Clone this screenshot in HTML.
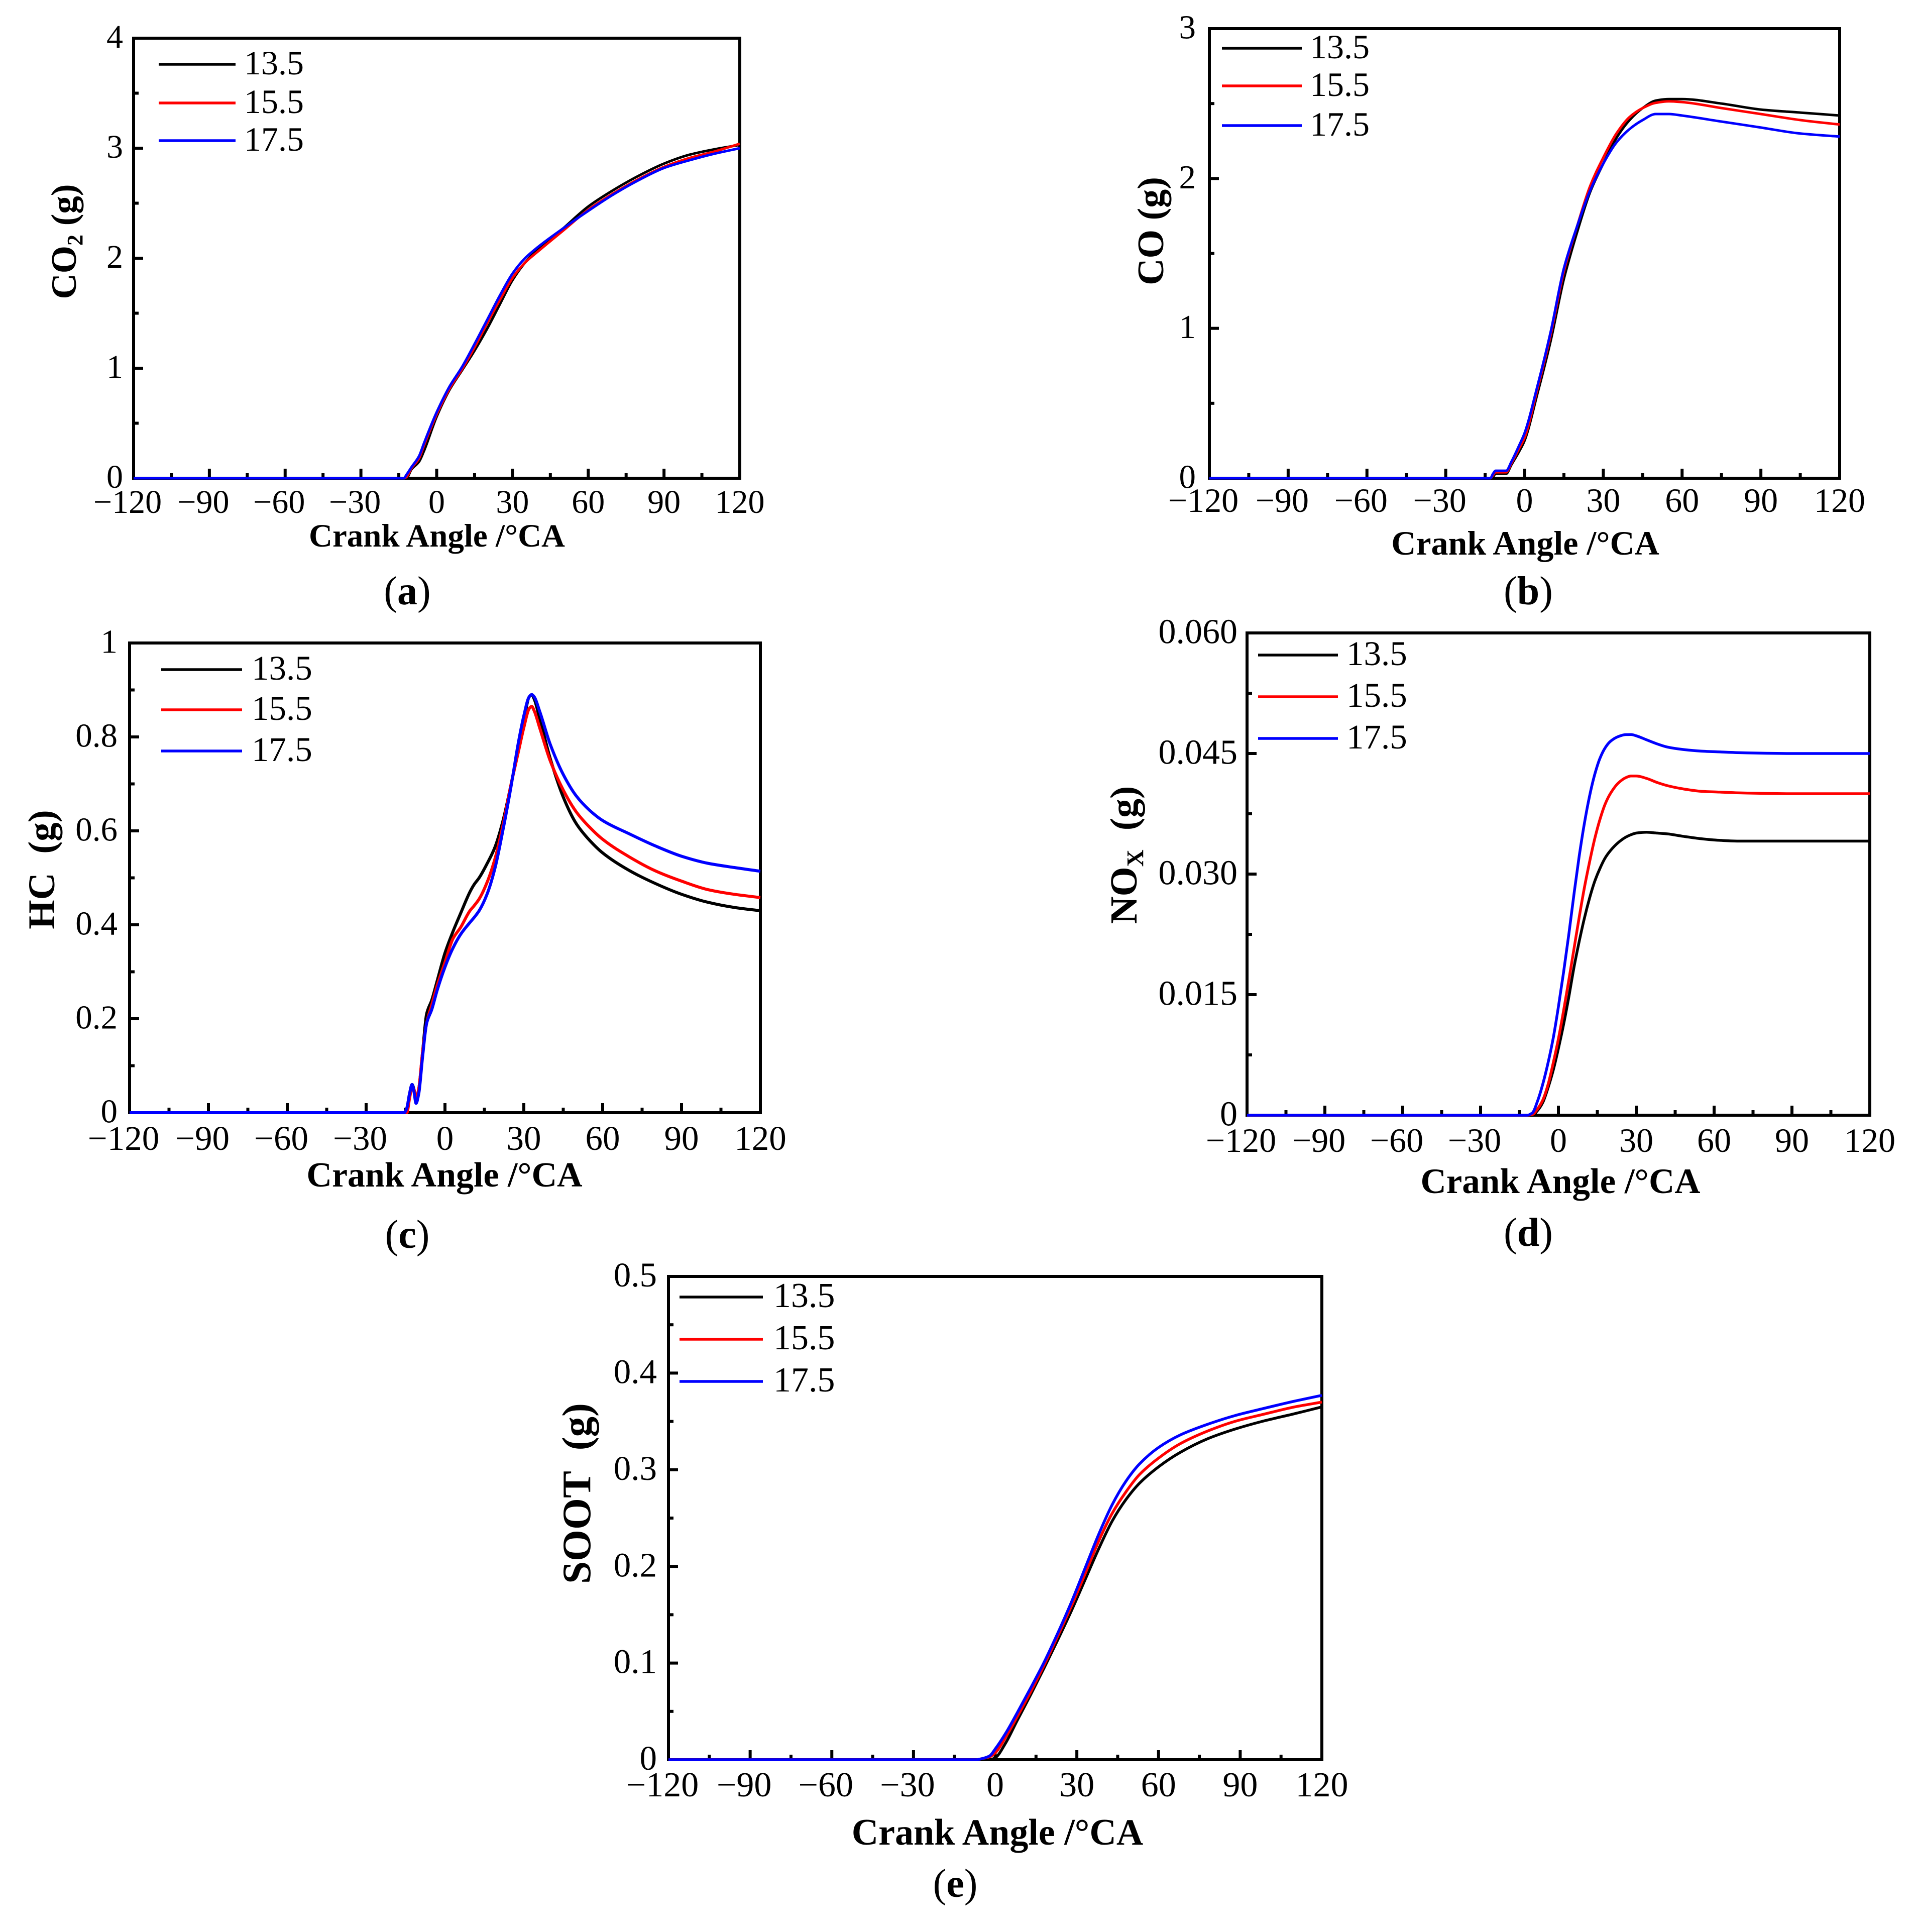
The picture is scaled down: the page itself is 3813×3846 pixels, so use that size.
<!DOCTYPE html>
<html lang="en">
<head>
<meta charset="utf-8">
<title>Emissions versus crank angle</title>
<style>
html,body{margin:0;padding:0;background:#fff;width:3813px;height:3846px;overflow:hidden}
svg{display:block}
text{font-family:"Liberation Serif",serif;fill:#000}
</style>
</head>
<body>
<svg id="figure" xmlns="http://www.w3.org/2000/svg" width="3813" height="3846" viewBox="0 0 3813 3846">
<rect width="3813" height="3846" fill="#fff"/>
</svg>
<script>
// Shared tick labels and series names
const xTickValues = [-120, -90, -60, -30, 0, 30, 60, 90, 120];
const seriesNames = ['13.5', '15.5', '17.5'];
const seriesColors = ['#000000', '#ff0000', '#0000ff'];

// (a) CO2
const co2Angle = [-120,-13,-12,-10,-7,-5,0,5,10,15,20,25,30,35,40,50,60,70,80,90,100,110,120];
const co2_135 = [0,0,0,.08,.15,.25,.56,.8,.98,1.16,1.36,1.58,1.8,1.96,2.08,2.27,2.47,2.62,2.75,2.86,2.94,2.99,3.03];
const co2_155 = [0,0,.01,.09,.18,.30,.58,.81,.99,1.19,1.41,1.62,1.82,1.96,2.06,2.25,2.44,2.59,2.72,2.83,2.91,2.97,3.04];
const co2_175 = [0,0,.03,.1,.2,.32,.6,.83,1.01,1.22,1.44,1.66,1.86,2.0,2.1,2.27,2.43,2.58,2.71,2.82,2.89,2.95,3.0];
const co2YLabels = ['0','1','2','3','4'];

// (b) CO
const coAngle = [-120,-13,-12,-11,-7,-5,-2,0,5,10,15,20,25,30,35,40,45,50,55,60,75,90,105,120];
const co_135 = [0,0,.01,.03,.03,.09,.18,.25,.57,.92,1.33,1.64,1.91,2.1,2.27,2.39,2.47,2.52,2.53,2.53,2.5,2.46,2.44,2.42];
const co_155 = [0,0,.02,.04,.04,.1,.2,.27,.6,.96,1.38,1.68,1.95,2.14,2.30,2.41,2.47,2.505,2.515,2.51,2.47,2.43,2.39,2.36];
const co_175 = [0,0,.03,.05,.05,.11,.22,.3,.62,.98,1.4,1.68,1.92,2.1,2.24,2.33,2.39,2.43,2.43,2.42,2.38,2.34,2.3,2.28];
const coYLabels = ['0','1','2','3'];

// (c) HC
const hcAngle = [-120,-15.5,-14.5,-13.5,-12.5,-11.8,-11,-10,-8.5,-7,-5,-3,0,3,6,9.5,11,13,16,19,22,25,28,30,32,33,34,36,40,45,50,55,60,70,80,90,100,110,120];
const hc_135 = [0,0,.01,.04,.06,.05,.03,.05,.13,.21,.24,.28,.34,.385,.425,.47,.485,.5,.53,.565,.62,.695,.78,.835,.885,.89,.88,.84,.755,.672,.615,.58,.553,.516,.488,.465,.448,.437,.43];
const hc_155 = [0,0,0,.03,.055,.05,.03,.05,.13,.19,.23,.27,.32,.37,.395,.43,.44,.455,.49,.54,.61,.695,.77,.82,.86,.865,.855,.82,.75,.687,.64,.608,.582,.545,.515,.493,.475,.465,.458];
const hc_175 = [0,0,.01,.04,.06,.045,.02,.04,.12,.19,.22,.26,.31,.35,.38,.405,.415,.43,.465,.52,.6,.69,.79,.845,.885,.89,.885,.855,.785,.72,.674,.644,.622,.594,.568,.546,.531,.522,.514];
const hcYLabels = ['0','0.2','0.4','0.6','0.8','1'];

// (d) NOx
const noxAngle = [-120,-12,-10,-8,-6,-4,-2,0,2,4,6,8,10,12,14,16,18,20,23,26,28,30,34,38,42,48,55,62,70,90,120];
const nox_135 = [0,0,0,.0006,.0016,.0034,.0056,.0083,.0113,.0147,.0184,.0216,.0245,.027,.0291,.0307,.032,.0329,.0339,.0346,.0349,.0351,.0352,.0351,.035,.0347,.0344,.0342,.0341,.0341,.0341];
const nox_155 = [0,0,.0001,.0008,.0019,.0038,.0065,.0095,.013,.0168,.0207,.0246,.0283,.0315,.0344,.0368,.0387,.04,.0413,.042,.0422,.0422,.0419,.0414,.041,.0406,.0403,.0402,.0401,.04,.04];
const nox_175 = [0,0,.0003,.0018,.0039,.0065,.0096,.0135,.0178,.0225,.0275,.0322,.0363,.0397,.0424,.0444,.0457,.0465,.0471,.04735,.04736,.0472,.0467,.0462,.0458,.0455,.0453,.0452,.0451,.045,.045];
const noxYLabels = ['0','0.015','0.030','0.045','0.060'];

// (e) SOOT
const sootAngle = [-120,-7,-5,-2,0,4,8,13,18,23,28,33,38,43,48,53,60,68,78,88,98,110,120];
const soot_135 = [0,0,0,0,.002,.018,.04,.067,.095,.124,.154,.186,.218,.247,.269,.286,.303,.318,.332,.342,.35,.358,.365];
const soot_155 = [0,0,.001,.003,.007,.024,.044,.07,.098,.128,.159,.192,.226,.255,.277,.295,.312,.327,.34,.35,.357,.365,.37];
const soot_175 = [0,0,.001,.004,.011,.028,.048,.074,.101,.131,.163,.198,.233,.264,.288,.306,.323,.336,.347,.356,.363,.371,.377];
const sootYLabels = ['0','0.1','0.2','0.3','0.4','0.5'];

const figure = document.getElementById('figure');
const NS = 'http://www.w3.org/2000/svg';

function mk(tag, attrs, parent) {
  const node = document.createElementNS(NS, tag);
  for (const key in attrs) node.setAttribute(key, attrs[key]);
  parent.appendChild(node);
  return node;
}

// Monotone cubic path through points, so curves stay smooth without overshoot
function curvePath(px, py) {
  const n = px.length, d = [], m = new Array(n).fill(0);
  for (let i = 0; i < n - 1; i++) d.push((py[i + 1] - py[i]) / (px[i + 1] - px[i]));
  m[0] = d[0];
  m[n - 1] = d[n - 2];
  for (let i = 1; i < n - 1; i++) {
    if (d[i - 1] * d[i] <= 0) { m[i] = 0; continue; }
    const h0 = px[i] - px[i - 1], h1 = px[i + 1] - px[i];
    m[i] = 3 * (h0 + h1) / ((2 * h1 + h0) / d[i - 1] + (h1 + 2 * h0) / d[i]);
  }
  let out = 'M' + px[0].toFixed(1) + ' ' + py[0].toFixed(1);
  for (let i = 0; i < n - 1; i++) {
    const h = (px[i + 1] - px[i]) / 3;
    out += 'C' + (px[i] + h).toFixed(1) + ' ' + (py[i] + m[i] * h).toFixed(1) + ' ' +
      (px[i + 1] - h).toFixed(1) + ' ' + (py[i + 1] - m[i + 1] * h).toFixed(1) + ' ' +
      px[i + 1].toFixed(1) + ' ' + py[i + 1].toFixed(1);
  }
  return out;
}

const panels = [
  { id: 'co2', letter: 'a', angle: co2Angle, series: [co2_135, co2_155, co2_175], yLabels: co2YLabels,
    box: [266, 1473, 76, 952], tickFont: 66, yFont: 66, tickBase: 1021, yGap: 21, lineW: 5,
    xTitle: [870, 1088, 65], yTitle: [151, 481, 71], title: [['CO'], ['2', 1], [' (g)']],
    legend: [316, 469, 486, [128, 205, 280]], legendFont: 68, caption: [811, 1203] },
  { id: 'co', letter: 'b', angle: coAngle, series: [co_135, co_155, co_175], yLabels: coYLabels,
    box: [2408, 3663, 57, 952], tickFont: 68, yFont: 67, tickBase: 1019, yGap: 27, lineW: 5,
    xTitle: [3037, 1104, 68], yTitle: [2316, 460, 74], title: [['CO (g)']],
    legend: [2433, 2592, 2608, [96, 171, 250]], legendFont: 68, caption: [3043, 1203] },
  { id: 'hc', letter: 'c', angle: hcAngle, series: [hc_135, hc_155, hc_175], yLabels: hcYLabels,
    box: [258, 1514, 1280, 2215], tickFont: 69, yFont: 67, tickBase: 2289, yGap: 24, lineW: 6,
    xTitle: [885, 2362, 70], yTitle: [108, 1731, 75], title: [['HC\u00a0\u00a0(g)']],
    legend: [321, 482, 501, [1333, 1413, 1495]], legendFont: 69, caption: [811, 2484] },
  { id: 'nox', letter: 'd', angle: noxAngle, series: [nox_135, nox_155, nox_175], yLabels: noxYLabels,
    box: [2483, 3723, 1260, 2220], tickFont: 68, yFont: 70, tickBase: 2293, yGap: 19, lineW: 5.5,
    xTitle: [3107, 2375, 71], yTitle: [2263, 1702, 76], title: [['NO'], ['X', 1], ['\u00a0\u00a0(g)']],
    legend: [2505, 2664, 2681, [1304, 1387, 1470]], legendFont: 69, caption: [3043, 2480] },
  { id: 'soot', letter: 'e', angle: sootAngle, series: [soot_135, soot_155, soot_175], yLabels: sootYLabels,
    box: [1331, 2632, 2541, 3503], tickFont: 70, yFont: 69, tickBase: 3576, yGap: 23, lineW: 5.5,
    xTitle: [1986, 3672, 74], yTitle: [1175, 2973, 81], title: [['SOOT\u00a0\u00a0(g)']],
    legend: [1353, 1519, 1540, [2582, 2666, 2750]], legendFont: 70, caption: [1902, 3776] }
];

panels.forEach(function (p) {
  const left = p.box[0], right = p.box[1], top = p.box[2], bottom = p.box[3];
  const yVals = p.yLabels.map(Number);
  const yMax = yVals[yVals.length - 1];
  const yStep = yVals[1] - yVals[0];
  const xScale = function (v) { return left + (v + 120) / 240 * (right - left); };
  const yScale = function (v) { return bottom - v / yMax * (bottom - top); };

  const group = mk('g', {}, figure);
  
  

  // plot frame
  const frame = mk('rect', { x: left, y: top, width: right - left, height: bottom - top, fill: 'none', stroke: '#000', 'stroke-width': 6 }, group);
  
  

  // x ticks
  xTickValues.forEach(function (v, i) {
    const x = xScale(v);
    const tick = mk('line', { x1: x, x2: x, y1: bottom, y2: bottom - 19, stroke: '#000', 'stroke-width': 6 }, group);
    
    
    const label = mk('text', { x: x + (v < 0 ? -12 : 0), y: p.tickBase, 'text-anchor': 'middle', 'font-size': p.tickFont }, group);
    label.textContent = String(v).replace('-', '\u2212');
    
    
    if (i < xTickValues.length - 1) {
      const mx = xScale(v + 15);
      const minor = mk('line', { x1: mx, x2: mx, y1: bottom, y2: bottom - 10, stroke: '#000', 'stroke-width': 6 }, group);
      
      
    }
  });

  // y ticks
  yVals.forEach(function (v, i) {
    const y = yScale(v);
    const tick = mk('line', { x1: left, x2: left + 19, y1: y, y2: y, stroke: '#000', 'stroke-width': 6 }, group);
    
    
    const label = mk('text', { x: left - p.yGap, y: y + p.yFont * 0.32 - 2, 'text-anchor': 'end', 'font-size': p.yFont }, group);
    label.textContent = p.yLabels[i];
    
    
    if (i < yVals.length - 1) {
      const my = yScale(v + yStep / 2);
      const minor = mk('line', { x1: left, x2: left + 10, y1: my, y2: my, stroke: '#000', 'stroke-width': 6 }, group);
      
      
    }
  });

  // x axis title
  const xTitle = mk('text', { x: p.xTitle[0], y: p.xTitle[1], 'text-anchor': 'middle', 'font-size': p.xTitle[2], 'font-weight': 'bold' }, group);
  xTitle.textContent = 'Crank Angle /\u00b0CA';
  
  

  // y axis title
  const yTitle = mk('text', { x: p.yTitle[0], y: p.yTitle[1], 'text-anchor': 'middle', 'font-size': p.yTitle[2], 'font-weight': 'bold',
    transform: 'rotate(-90 ' + p.yTitle[0] + ' ' + p.yTitle[1] + ')' }, group);
  
  
  p.title.forEach(function (part, i) {
    const prevSub = i > 0 && p.title[i - 1][1];
    const attrs = {};
    if (part[1]) { attrs['font-size'] = p.yTitle[2] * 0.62; attrs.dy = p.yTitle[2] * 0.18; }
    else if (prevSub) { attrs.dy = -p.yTitle[2] * 0.18; }
    const span = mk('tspan', attrs, yTitle);
    span.textContent = part[0];
  });

  // data curves
  p.series.forEach(function (values, i) {
    const path = mk('path', {
      d: curvePath(p.angle.map(xScale), values.map(yScale)),
      fill: 'none', stroke: seriesColors[i], 'stroke-width': p.lineW, 'stroke-linejoin': 'round', 'stroke-linecap': 'butt'
    }, group);
    
    
  });

  // legend
  seriesNames.forEach(function (name, i) {
    const rowY = p.legend[3][i];
    const key = mk('line', { x1: p.legend[0], x2: p.legend[1], y1: rowY, y2: rowY, stroke: seriesColors[i], 'stroke-width': 5.5 }, group);
    
    
    const entry = mk('text', { x: p.legend[2], y: rowY + 20, 'font-size': p.legendFont }, group);
    entry.textContent = name;
    
    
  });

  // caption
  const caption = mk('text', { x: p.caption[0], y: p.caption[1], 'text-anchor': 'middle', 'font-size': 80 }, group);
  
  
  mk('tspan', {}, caption).textContent = '(';
  mk('tspan', { 'font-weight': 'bold' }, caption).textContent = p.letter;
  mk('tspan', {}, caption).textContent = ')';
});
</script>
</body>
</html>
